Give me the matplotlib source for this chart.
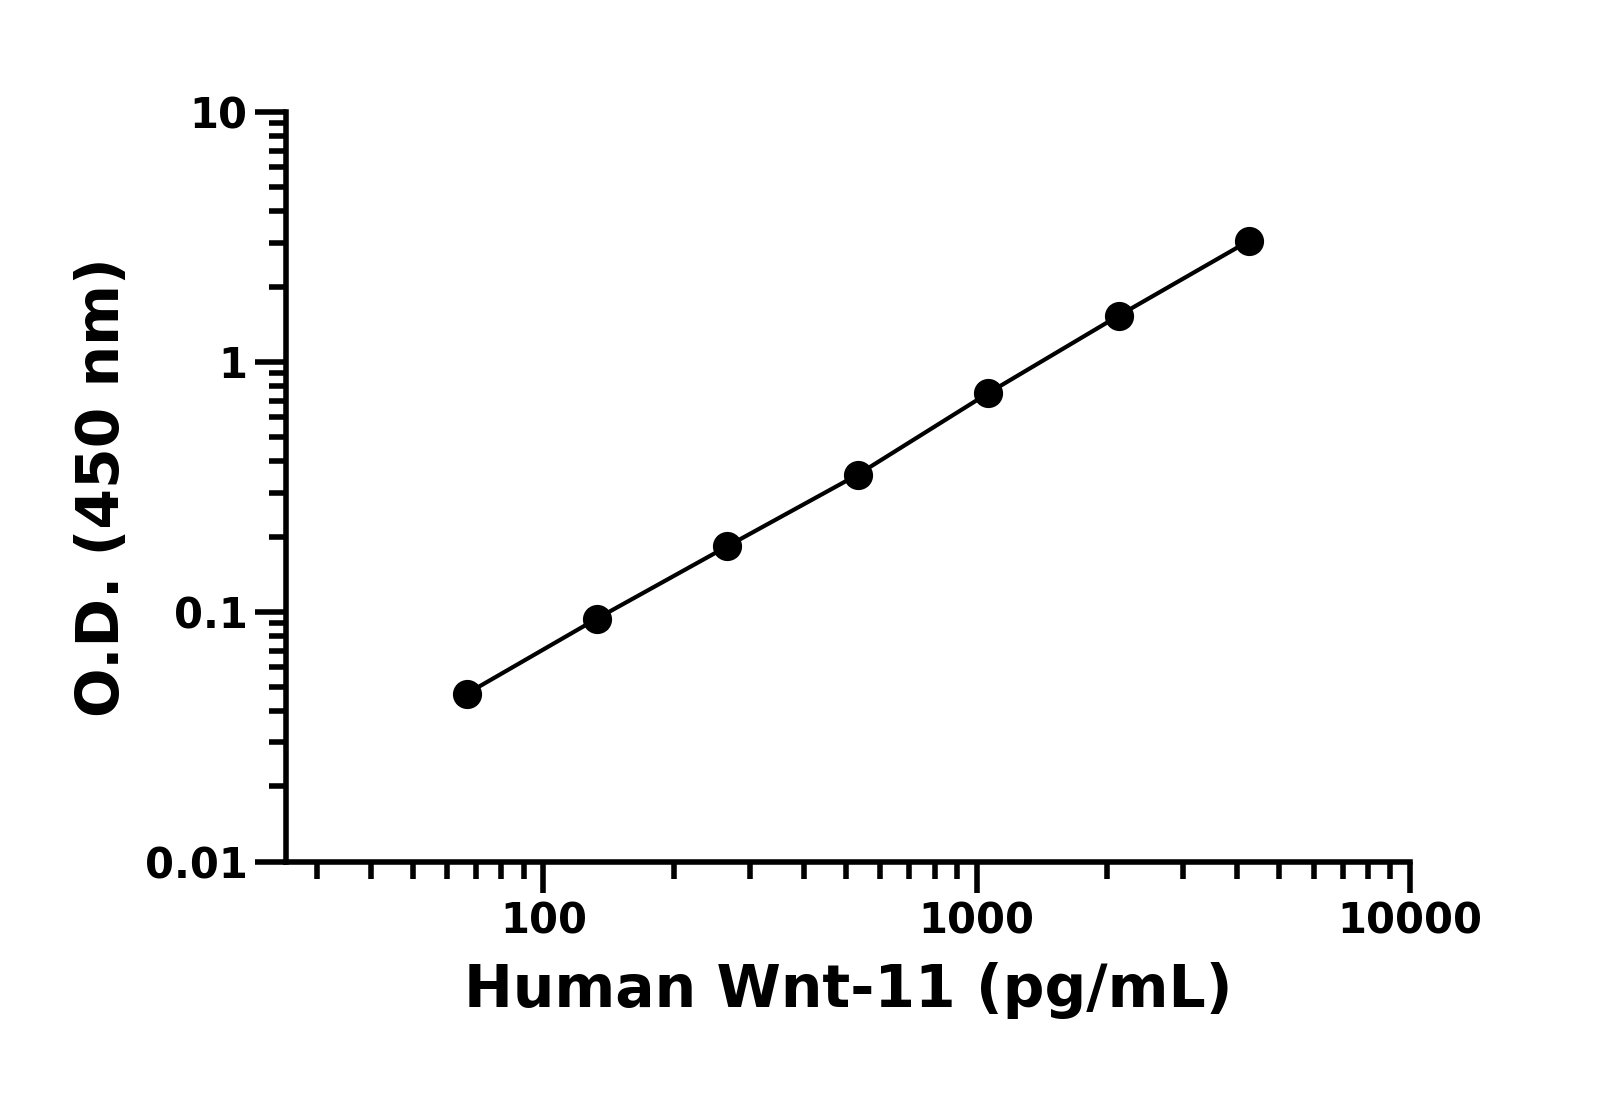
import matplotlib.pyplot as plt
import numpy as np

# Standard curve values
conc_pg_ml = [66.5, 133, 266, 532, 1064, 2128, 4256]
od_450 = [0.047, 0.094, 0.183, 0.354, 0.75, 1.53, 3.05]

x_label = 'Human Wnt-11 (pg/mL)'
y_label = 'O.D. (450 nm)'

fig = plt.figure(figsize=(16, 11.09), dpi=100)
ax = fig.add_axes([0.179, 0.223, 0.702, 0.676])

ax.plot(conc_pg_ml, od_450, color='black', lw=3, marker='o', ms=20,
        markerfacecolor='black', clip_on=False)

ax.set_xscale('log')
ax.set_yscale('log')
ax.set_xlim(25.5, 10000)
ax.set_ylim(0.01, 10)

ax.set_xticks([100, 1000, 10000])
ax.set_xticklabels(['100', '1000', '10000'])
ax.set_yticks([0.01, 0.1, 1, 10])
ax.set_yticklabels(['0.01', '0.1', '1', '10'])

for side in ['top', 'right']:
    ax.spines[side].set_visible(False)
for side in ['left', 'bottom']:
    ax.spines[side].set_linewidth(4)

ax.tick_params(which='major', length=22, width=4, labelsize=30, pad=6)
ax.tick_params(which='minor', length=12, width=4)
for lbl in ax.get_xticklabels() + ax.get_yticklabels():
    lbl.set_fontweight('bold')

ax.set_xlabel(x_label, fontsize=42, fontweight='bold', labelpad=14)
ax.set_ylabel(y_label, fontsize=42, fontweight='bold', labelpad=10)

fig.savefig('out.png', dpi=100, facecolor='white')
